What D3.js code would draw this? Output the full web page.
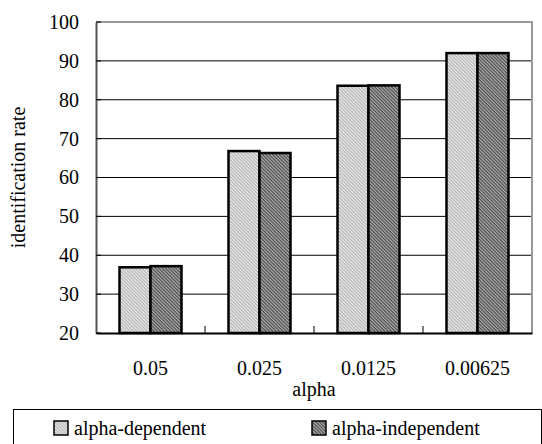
<!DOCTYPE html>
<html><head><meta charset="utf-8">
<script src="https://cdn.jsdelivr.net/npm/d3@7"></script>
<style>body{margin:0;background:#fff}svg{display:block}svg text{font-family:"Liberation Serif","Times New Roman",serif}</style>
</head><body>
<script>
const categories = ["0.05","0.025","0.0125","0.00625"];
const seriesNames = ["alpha-dependent","alpha-independent"];
const alphaDependent = [36.9, 66.8, 83.6, 92.0];
const alphaIndependent = [37.2, 66.3, 83.7, 92.0];
const yTicks = [20,30,40,50,60,70,80,90,100];

const W=542,H=444;
const m={l:96,r:10,t:22,b:111};
const FS=20;
const svg=d3.select("body").append("svg").attr("width",W).attr("height",H);
const defs=svg.append("defs");
function hatch(id,bg,fg,sw){
  const p=defs.append("pattern").attr("id",id).attr("patternUnits","userSpaceOnUse")
    .attr("width",2.4).attr("height",2.4).attr("patternTransform","rotate(45)");
  p.append("rect").attr("width",2.4).attr("height",2.4).attr("fill",bg);
  p.append("line").attr("x1",0).attr("y1",0.6).attr("x2",2.4).attr("y2",0.6).attr("stroke",fg).attr("stroke-width",sw);
}
hatch("p0","#ececec","#a8a8a8",1.0);
hatch("p1","#b0b0b0","#404040",1.1);
const fills=["url(#p0)","url(#p1)"];

const x=d3.scaleBand().domain(categories).range([m.l,W-m.r]);
const xs=d3.scaleBand().domain(seriesNames).range([0,x.bandwidth()]).paddingInner(0).paddingOuter(0.758);
const y=d3.scaleLinear().domain([20,100]).range([H-m.b,m.t]);

// gridlines
svg.append("g").selectAll("line").data(yTicks.slice(1,-1)).join("line")
  .attr("x1",m.l).attr("x2",W-m.r).attr("y1",d=>y(d)).attr("y2",d=>y(d))
  .attr("stroke","#000").attr("stroke-width",1);
// plot border top/right gray
svg.append("path").attr("d",`M${m.l},${m.t}H${W-m.r}V${H-m.b}`).attr("fill","none").attr("stroke","#999").attr("stroke-width",2);

// bars
const data=categories.map((c,i)=>({c,vals:[alphaDependent[i],alphaIndependent[i]]}));
const g=svg.append("g");
data.forEach(d=>{
  d.vals.forEach((v,j)=>{
    g.append("rect").attr("x",x(d.c)+xs(seriesNames[j])).attr("width",xs.bandwidth())
      .attr("y",y(v)).attr("height",y(20)-y(v))
      .attr("fill",fills[j]).attr("stroke","#000").attr("stroke-width",2.5);
  });
});

// axes
const ya=d3.axisLeft(y).tickValues(yTicks).tickSize(0).tickPadding(17);
const yg=svg.append("g").attr("transform",`translate(${m.l},0)`).call(ya);
yg.attr("font-family",null).attr("font-size",null);
yg.select(".domain").attr("stroke","#555").attr("stroke-width",2);
yg.selectAll("text").attr("font-size",FS).attr("fill","#000");
svg.append("g").selectAll("line").data(yTicks).join("line")
  .attr("x1",m.l).attr("x2",m.l+5).attr("y1",d=>y(d)).attr("y2",d=>y(d)).attr("stroke","#000");

const xa=d3.axisBottom(x).tickSize(0).tickPadding(28);
const xg=svg.append("g").attr("transform",`translate(0,${H-m.b})`).call(xa);
xg.attr("font-family",null).attr("font-size",null);
xg.select(".domain").attr("stroke","#000").attr("stroke-width",2);
xg.selectAll("text").attr("font-size",FS).attr("fill","#000");
svg.append("g").selectAll("line").data(categories.slice(1)).join("line")
  .attr("x1",d=>x(d)).attr("x2",d=>x(d)).attr("y1",H-m.b).attr("y2",H-m.b-7).attr("stroke","#000");

svg.append("text").attr("x",(m.l+W-m.r)/2).attr("y",396).attr("text-anchor","middle")
  .attr("font-size",FS).text("alpha");
svg.append("text").attr("transform",`translate(25,${(m.t+H-m.b)/2}) rotate(-90)`).attr("text-anchor","middle")
  .attr("font-size",FS).text("identification rate");

// legend
svg.append("rect").attr("x",13.5).attr("y",409.5).attr("width",528).attr("height",40).attr("fill","none").attr("stroke","#000").attr("stroke-width",1);
const lx=[54,312];
seriesNames.forEach((n,j)=>{
  svg.append("rect").attr("x",lx[j]).attr("y",421).attr("width",14).attr("height",14)
    .attr("fill",fills[j]).attr("stroke","#000").attr("stroke-width",1.5);
  svg.append("text").attr("x",lx[j]+20).attr("y",435).attr("font-size",FS).text(n);
});
</script>
</body></html>
